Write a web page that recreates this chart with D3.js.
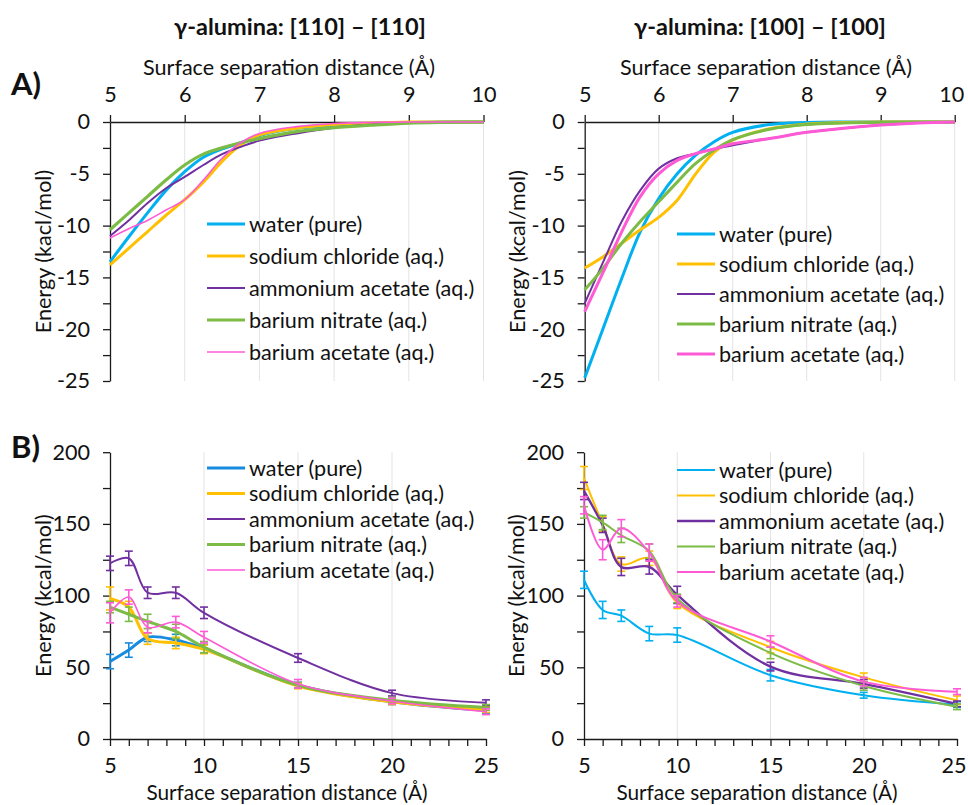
<!DOCTYPE html>
<html>
<head>
<meta charset="utf-8">
<script src="https://cdn.jsdelivr.net/npm/d3@7"></script>
<style>
  body { margin: 0; background: #fff; }
  svg text { font-family: Lato, "Open Sans", sans-serif; fill: #111; }
</style>
</head>
<body>
<div id="svg-container"></div>
<script>
// series names, shared by all four panels
var seriesNames = ["water (pure)", "sodium chloride (aq.)", "ammonium acetate (aq.)",
                   "barium nitrate (aq.)", "barium acetate (aq.)"];

// panel A: energy curves (kcal/mol) against separation (Å)
var aX = [5, 5.25, 5.5, 5.75, 6, 6.25, 6.5, 6.75, 7, 7.5, 8, 8.5, 9, 9.5, 10];

var a110Water    = [-13.5, -11.1, -8.8, -6.6, -4.8, -3.4, -2.6, -2.0, -1.3, -0.6, -0.35, -0.15, -0.05, 0, 0];
var a110NaCl     = [-13.8, -12.2, -10.6, -9.0, -7.5, -5.8, -3.8, -2.2, -1.25, -0.6, -0.25, -0.1, 0, 0, 0];
var a110AmmAc    = [-11.0, -9.5, -7.85, -6.4, -5.3, -4.15, -3.1, -2.4, -1.8, -1.1, -0.55, -0.25, -0.1, 0, 0];
var a110BaNitr   = [-10.4, -8.8, -7.2, -5.6, -4.15, -3.1, -2.5, -2.0, -1.6, -0.93, -0.55, -0.3, -0.1, -0.03, 0];
var a110BaAc     = [-11.2, -10.3, -9.5, -8.5, -7.5, -5.6, -3.5, -2.0, -1.1, -0.45, -0.15, -0.05, 0, 0, 0];

var a100Water    = [-24.7, -19.9, -15.1, -10.6, -7.4, -5.0, -3.2, -1.9, -1.0, -0.25, -0.05, 0, 0, 0, 0];
var a100NaCl     = [-14.1, -13.0, -11.7, -10.4, -9.2, -7.55, -5.0, -2.9, -1.75, -0.65, -0.2, -0.05, 0, 0, 0];
var a100AmmAc    = [-17.5, -13.5, -9.6, -6.6, -4.5, -3.5, -3.05, -2.6, -2.25, -1.6, -1.0, -0.6, -0.3, -0.1, 0];
var a100BaNitr   = [-16.2, -14.1, -11.7, -9.6, -7.7, -5.8, -4.0, -2.7, -1.7, -0.7, -0.25, -0.1, -0.03, 0, 0];
var a100BaAc     = [-18.3, -14.5, -10.6, -7.2, -5.0, -3.7, -3.05, -2.6, -2.1, -1.6, -1.0, -0.6, -0.3, -0.1, 0];

// panel B: energy with error bars
var bX = [5, 6, 7, 8.5, 10, 15, 20, 25];

var b110Water    = [54, 62, 71, 69, 63, 37.5, 26, 20];
var b110NaCl     = [98, 92, 70, 67, 62.5, 37, 26, 20.5];
var b110AmmAc    = [122.5, 126, 102, 102, 88, 56.5, 32, 25.3];
var b110BaNitr   = [92, 87, 82, 75, 64, 37.5, 27, 22];
var b110BaAc     = [88, 99, 78, 81.5, 71, 38.5, 26.5, 19];

var b110WaterErr  = [5, 5, 3, 4, 3, 2, 2, 2];
var b110NaClErr   = [8, 4, 4, 4, 3, 2, 2, 2];
var b110AmmAcErr  = [5, 5, 4, 4, 4, 3, 2, 2];
var b110BaNitrErr = [4, 5, 5, 5, 4, 2, 2, 2];
var b110BaAcErr   = [7, 5, 4, 4, 4, 3, 2, 2];

var b100Water    = [111, 90, 86, 73.5, 72.5, 44.5, 30.5, 24];
var b100NaCl     = [182, 150, 122, 126, 95, 64, 43, 27];
var b100AmmAc    = [173, 149, 120, 120, 100.5, 50.5, 38.5, 24.5];
var b100BaNitr   = [158, 151, 142, 131, 98, 60, 37, 22.5];
var b100BaAc     = [163, 132, 147, 130, 96, 68, 40, 33];

var b100WaterErr  = [6, 6, 4, 5, 5, 4, 2, 2];
var b100NaClErr   = [8, 5, 5, 5, 4, 4, 3, 3];
var b100AmmAcErr  = [6, 5, 6, 5, 6, 3, 3, 2];
var b100BaNitrErr = [4, 5, 5, 5, 3, 4, 3, 2];
var b100BaAcErr   = [6, 7, 6, 6, 4, 4, 3, 2];

// tick values
var aXTicks = [5, 6, 7, 8, 9, 10];
var aYTicks = [0, -2.5, -5, -7.5, -10, -12.5, -15, -17.5, -20, -22.5, -25];
var bXTicks = d3.range(5, 26, 1);
var bYTicks = [0, 25, 50, 75, 100, 125, 150, 175, 200];

var xTitle = "Surface separation distance (Å)";

var svgWidth  = 968;
var svgHeight = 805;
var fontSize  = 21.6;

var svg = d3.select("#svg-container")
            .append("svg")
            .attr("width", svgWidth)
            .attr("height", svgHeight);

// colours per panel (water is a darker blue in B left)
var baseColors = ["#00b0f0", "#ffc000", "#7030a0", "#7cbb45", "#ff5ad6"];

var panels = [
  { kind: "A", x0: 110, x1: 483.5, y0: 381, y1: 122, data: [a110Water, a110NaCl, a110AmmAc, a110BaNitr, a110BaAc],
    widths: [3, 3, 2, 3.2, 1.6], colors: baseColors, yTitle: "Energy (kacl/mol)", yTitleX: 43,
    legendX: 207, legendY: 224, legendStep: 32, title: "γ-alumina: [110] – [110]", titleX: 300, xTitleX: 289 },
  { kind: "A", x0: 584.7, x1: 954.7, y0: 381, y1: 122, data: [a100Water, a100NaCl, a100AmmAc, a100BaNitr, a100BaAc],
    widths: [3, 3, 2, 3, 3], colors: baseColors, yTitle: "Energy (kcal/mol)", yTitleX: 517,
    legendX: 677, legendY: 234, legendStep: 30, title: "γ-alumina: [100] – [100]", titleX: 760, xTitleX: 766 },
  { kind: "B", x0: 110, x1: 486, y0: 739, y1: 452.2, data: [b110Water, b110NaCl, b110AmmAc, b110BaNitr, b110BaAc],
    errs: [b110WaterErr, b110NaClErr, b110AmmAcErr, b110BaNitrErr, b110BaAcErr],
    widths: [3, 3, 2, 3, 1.6], colors: ["#178be0", "#ffc000", "#7030a0", "#7cbb45", "#ff5ad6"],
    yTitle: "Energy (kcal/mol)", yTitleX: 43, legendX: 207, legendY: 468, legendStep: 25.5, xTitleX: 287 },
  { kind: "B", x0: 584, x1: 957, y0: 739, y1: 452.2, data: [b100Water, b100NaCl, b100AmmAc, b100BaNitr, b100BaAc],
    errs: [b100WaterErr, b100NaClErr, b100AmmAcErr, b100BaNitrErr, b100BaAcErr],
    widths: [2, 2, 2.3, 2, 2], colors: baseColors,
    yTitle: "Energy (kcal/mol)", yTitleX: 516, legendX: 677, legendY: 470, legendStep: 25.5, xTitleX: 757 }
];

panels.forEach(function(p) {
  var isA = p.kind === "A";
  var xs = isA ? aX : bX;

  var xScale = d3.scaleLinear().domain(isA ? [5, 10] : [5, 25]).range([p.x0, p.x1]);
  var yScale = d3.scaleLinear().domain(isA ? [-25, 0] : [0, 200]).range([p.y0, p.y1]);

  var g = svg.append("g");

  // vertical gridlines at labelled x ticks
  var gridVals = isA ? aXTicks.slice(1) : [10, 15, 20];
  g.selectAll(".grid")
    .data(gridVals)
    .enter()
      .append("line")
      .attr("x1", function(d) { return xScale(d); })
      .attr("x2", function(d) { return xScale(d); })
      .attr("y1", p.y1)
      .attr("y2", p.y0)
      .attr("stroke", "#e3e3e3")
      .attr("stroke-width", 1);

  // x axis: on top (at zero) for A, below for B
  var xAxis = isA ? d3.axisTop(xScale).tickValues(aXTicks).tickFormat(d3.format("d"))
                  : d3.axisBottom(xScale).tickValues(bXTicks)
                      .tickFormat(function(d) { return d % 5 === 0 ? d : ""; });
  xAxis.tickSize(7).tickSizeOuter(0).tickPadding(isA ? 13 : 12);

  var xAxisGroup = g.append("g")
                    .attr("transform", "translate(0," + yScale(0) + ")")
                    .call(xAxis);

  // keep the last label of the right panels inside the page
  xAxisGroup.selectAll("text")
    .filter(function(d) { return p.x1 > 950 && d === xScale.domain()[1]; })
    .attr("text-anchor", "end")
    .attr("dx", "0.42em");

  // y axis with minor ticks
  var yAxis = d3.axisLeft(yScale)
                .tickValues(isA ? aYTicks : bYTicks)
                .tickFormat(function(d) { return (isA ? d % 5 === 0 : d % 50 === 0) ? d : ""; })
                .tickSize(7).tickSizeOuter(0).tickPadding(13);

  var yAxisGroup = g.append("g")
                    .attr("transform", "translate(" + p.x0 + ",0)")
                    .call(yAxis);

  [xAxisGroup, yAxisGroup].forEach(function(ax) {
    ax.selectAll("path, line").attr("stroke", "#1a1a1a").attr("stroke-width", 1.3);
    ax.selectAll("text").attr("font-size", fontSize).attr("font-family", "Lato").attr("fill", "#111");
  });

  // series lines
  var line = d3.line()
               .x(function(d, i) { return xScale(xs[i]); })
               .y(function(d) { return yScale(d); })
               .curve(d3.curveCatmullRom.alpha(0.5));

  p.data.forEach(function(vals, k) {
    if (p.errs) {
      var eg = g.append("g").attr("stroke", p.colors[k]).attr("stroke-width", 1.6);
      vals.forEach(function(v, i) {
        var cx = xScale(xs[i]);
        var e = p.errs[k][i];
        eg.append("line").attr("x1", cx).attr("x2", cx).attr("y1", yScale(v - e)).attr("y2", yScale(v + e));
        eg.append("line").attr("x1", cx - 4).attr("x2", cx + 4).attr("y1", yScale(v - e)).attr("y2", yScale(v - e));
        eg.append("line").attr("x1", cx - 4).attr("x2", cx + 4).attr("y1", yScale(v + e)).attr("y2", yScale(v + e));
      });
    }
    g.append("path")
      .datum(vals)
      .attr("d", line)
      .attr("fill", "none")
      .attr("stroke", p.colors[k])
      .attr("stroke-width", p.widths[k])
      .attr("stroke-linejoin", "round");
  });

  // legend
  var legend = g.append("g");
  seriesNames.forEach(function(name, k) {
    var ly = p.legendY + k * p.legendStep;
    legend.append("line")
      .attr("x1", p.legendX).attr("x2", p.legendX + 38)
      .attr("y1", ly).attr("y2", ly)
      .attr("stroke", p.colors[k])
      .attr("stroke-width", p.widths[k]);
    legend.append("text")
      .attr("x", p.legendX + 42)
      .attr("y", ly)
      .attr("dy", "0.35em")
      .attr("font-size", fontSize)
      .text(name);
  });

  // y title
  var yMid = (p.y0 + p.y1) / 2;
  g.append("text")
    .attr("font-size", fontSize)
    .attr("text-anchor", "middle")
    .attr("transform", "translate(" + p.yTitleX + "," + yMid + ") rotate(-90)")
    .attr("dy", "0.35em")
    .text(p.yTitle);

  // x title
  g.append("text")
    .attr("font-size", isA ? fontSize : 20.8)
    .attr("text-anchor", "middle")
    .attr("x", p.xTitleX)
    .attr("y", isA ? 75 : 799.5)
    .text(xTitle);

  // column title
  if (p.title) {
    g.append("text")
      .attr("font-size", 23.5)
      .style("font-weight", "bold")
      .attr("text-anchor", "middle")
      .attr("x", p.titleX)
      .attr("y", 35)
      .text(p.title);
  }
});

// panel letters
svg.append("text").attr("x", 11).attr("y", 95).attr("font-size", 31).style("font-weight", "bold").text("A)");
svg.append("text").attr("x", 11).attr("y", 458).attr("font-size", 31).style("font-weight", "bold").text("B)");
</script>
</body>
</html>
